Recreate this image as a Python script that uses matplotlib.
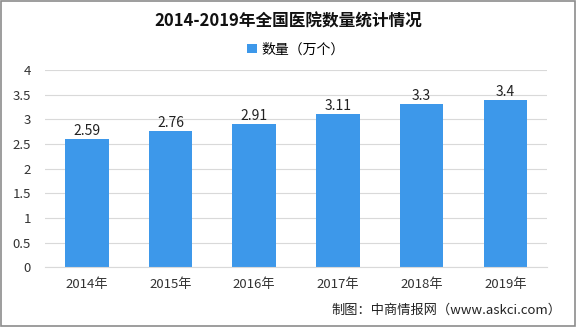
import matplotlib.pyplot as plt
from matplotlib.patches import Rectangle

plt.rcParams['font.family'] = ['Noto Sans CJK SC', 'DejaVu Sans']

years = ["2014年", "2015年", "2016年", "2017年", "2018年", "2019年"]
counts = [2.59, 2.76, 2.91, 3.11, 3.3, 3.4]
yticks = [0, 0.5, 1, 1.5, 2, 2.5, 3, 3.5, 4]
ytick_labels = ["0", "0.5", "1", "1.5", "2", "2.5", "3", "3.5", "4"]

fig = plt.figure(figsize=(5.76, 3.27), dpi=100)
ax = fig.add_axes([0.078, 0.183, 0.872, 0.603])

bar_color = "#3d98ea"
x = range(len(years))
bars = ax.bar(x, counts, width=0.52, color=bar_color, label="数量（万个）", zorder=2)
for xi, v in zip(x, counts):
    ax.text(xi, v + 0.02, f"{v:g}", ha="center", va="bottom", fontsize=10, color="#222222")

ax.set_xlim(-0.5, len(years) - 0.5)
ax.set_ylim(0, 4)
ax.set_yticks(yticks)
ax.set_yticklabels(ytick_labels)
ax.set_xticks(list(x))
ax.set_xticklabels(years)
ax.tick_params(axis="both", length=0, labelsize=9.5, colors="#333333")
ax.tick_params(axis="x", pad=8)
ax.tick_params(axis="y", pad=10)
ax.grid(axis="y", color="#d9d9d9", linewidth=0.8, zorder=0)
for side in ["top", "right", "left"]:
    ax.spines[side].set_visible(False)
ax.spines["bottom"].set_color("#d9d9d9")

fig.text(0.5, 0.935, "2014-2019年全国医院数量统计情况", ha="center", va="center",
         fontsize=12, fontweight="bold", color="#111111")
ax.legend(loc="center", bbox_to_anchor=(0.5, 1.105), frameon=False, fontsize=10,
          handlelength=0.7, handleheight=0.7, handletextpad=0.3)
fig.text(0.975, 0.05, "制图：中商情报网（www.askci.com）", ha="right", va="center",
         fontsize=9.5, color="#222222")

fig.patches.append(Rectangle((0.002, 0.003), 0.996, 0.994, transform=fig.transFigure,
                             fill=False, edgecolor="#8c8c8c", linewidth=1.2))

plt.savefig("out.png", dpi=100)
